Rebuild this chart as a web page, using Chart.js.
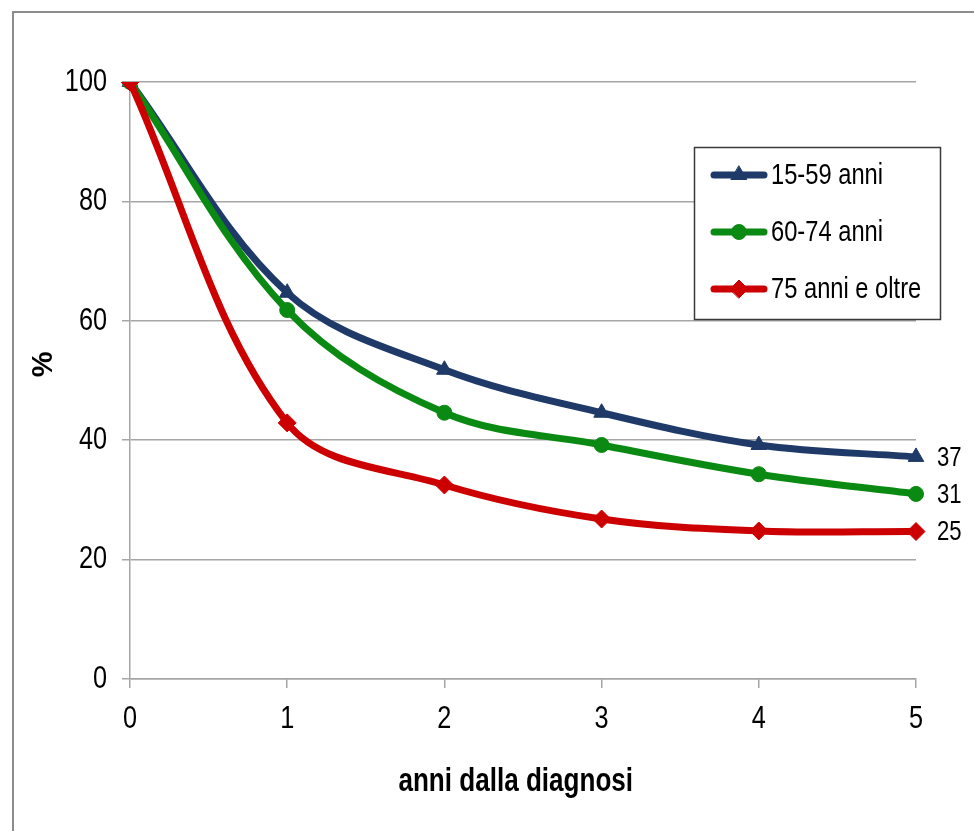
<!DOCTYPE html>
<html><head><meta charset="utf-8">
<script src="https://cdn.jsdelivr.net/npm/chart.js@4.4.1/dist/chart.umd.min.js"></script>
<style>
html,body{margin:0;padding:0;background:#fff;}
#wrap{position:relative;width:974px;height:831px;}
canvas{display:block;}
</style></head><body>
<div id="wrap"><canvas id="c" width="974" height="831"></canvas></div>
<script>
const years = ['0', '1', '2', '3', '4', '5'];
const seriesLabels = ['15-59 anni', '60-74 anni', '75 anni e oltre'];
const age15_59 = [100, 64.7, 51.8, 44.6, 39.2, 37.2];
const age60_74 = [100, 61.8, 44.6, 39.2, 34.3, 31.0];
const age75plus = [100, 42.9, 32.5, 26.8, 24.8, 24.7];
const endLabels = ['37', '31', '25'];
const yTicks = [0, 20, 40, 60, 80, 100];
const xTitle = 'anni dalla diagnosi';
const yTitle = '%';

const FONT = "'Liberation Sans', Arial, sans-serif";
const SX = 0.79; // horizontal condensing to mimic a narrow typeface
const colors = ['#1F3A68', '#0A8A12', '#CC0000'];
const styles = ['triangle', 'circle', 'rectRot'];
const radii = [9, 7.5, 9];
const GRID = '#a6a6a6';

const cv = document.getElementById('c');
const c2d = cv.getContext('2d');
const origFill = c2d.fillText.bind(c2d);
c2d.fillText = function (text, x, y) {
  if (String(text).trim() === yTitle) return origFill(text, x, y);
  this.save();
  this.translate(x, y);
  this.scale(SX, 1);
  origFill(text, 0, 0);
  this.restore();
};

const frame = {
  id: 'frame',
  beforeDraw(chart) {
    const ctx = chart.ctx;
    ctx.save();
    ctx.strokeStyle = '#8c8c8c';
    ctx.lineWidth = 2;
    ctx.beginPath();
    ctx.moveTo(13, 840); ctx.lineTo(13, 12); ctx.lineTo(980, 12);
    ctx.stroke();
    ctx.restore();
  }
};

const endLabelPlugin = {
  id: 'endLabels',
  afterDatasetsDraw(chart) {
    const ctx = chart.ctx;
    ctx.save();
    ctx.font = '28px ' + FONT;
    ctx.fillStyle = '#000';
    ctx.textBaseline = 'middle';
    ctx.textAlign = 'left';
    chart.data.datasets.forEach((ds, i) => {
      const meta = chart.getDatasetMeta(i);
      const pt = meta.data[meta.data.length - 1];
      ctx.fillText(endLabels[i], pt.x + 21, pt.y + 1);
    });
    ctx.restore();
  }
};

const boxLegend = {
  id: 'boxLegend',
  afterDraw(chart) {
    const ctx = chart.ctx;
    ctx.save();
    ctx.fillStyle = '#fff';
    ctx.fillRect(694, 147, 247, 172);
    ctx.strokeStyle = '#3a3a3a';
    ctx.lineWidth = 1.5;
    ctx.strokeRect(694.5, 147.5, 246, 172);
    const rows = [175, 232, 289];
    chart.data.datasets.forEach((ds, i) => {
      const y = rows[i];
      ctx.strokeStyle = ds.borderColor;
      ctx.lineWidth = 7;
      ctx.lineCap = 'round';
      ctx.beginPath();
      ctx.moveTo(714, y); ctx.lineTo(764, y);
      ctx.stroke();
      ctx.fillStyle = ds.borderColor;
      ctx.lineWidth = 1;
      Chart.helpers.drawPoint(ctx, {pointStyle: ds.pointStyle, radius: ds.pointRadius, borderWidth: 1, rotation: 0}, 739, y);
      ctx.fillStyle = '#000';
      ctx.font = '30px ' + FONT;
      ctx.textBaseline = 'middle';
      ctx.textAlign = 'left';
      ctx.fillText(ds.label, 771, y + 1);
    });
    ctx.restore();
  }
};

const datasets = [age15_59, age60_74, age75plus].map((arr, i) => ({
  label: seriesLabels[i],
  data: arr,
  borderColor: colors[i],
  backgroundColor: colors[i],
  pointBackgroundColor: colors[i],
  pointBorderColor: colors[i],
  pointStyle: styles[i],
  pointRadius: radii[i],
  pointBorderWidth: 1,
  borderWidth: 7,
  tension: 0.35,
  fill: false,
  order: 3 - i
}));

new Chart(cv, {
  type: 'line',
  data: { labels: years, datasets },
  options: {
    responsive: false,
    animation: false,
    devicePixelRatio: 1,
    layout: { padding: { left: 0, right: 58, top: 82, bottom: 0 } },
    plugins: { legend: { display: false }, tooltip: { enabled: false } },
    scales: {
      x: {
        type: 'category',
        offset: false,
        grid: { drawOnChartArea: false, color: GRID, lineWidth: 1.5, tickLength: 9 },
        border: { display: true, color: GRID, width: 1.5 },
        ticks: { font: { family: FONT, size: 32 }, color: '#000', padding: 12, maxRotation: 0, autoSkip: false },
        title: { display: true, text: xTitle + '  ', color: '#000', font: { family: FONT, size: 33, weight: 'bold' }, padding: { top: 0, bottom: 29 } },
        afterFit(s) { s.height = 152; }
      },
      y: {
        min: 0, max: 100,
        afterBuildTicks(s) { s.ticks = yTicks.map(v => ({ value: v })); },
        grid: { color: GRID, lineWidth: 1.5, tickLength: 8 },
        border: { display: true, color: GRID, width: 1.5 },
        ticks: { font: { family: FONT, size: 32 }, color: '#000', padding: 15 },
        title: { display: true, text: '    ' + yTitle, color: '#000', font: { family: FONT, size: 29, weight: 'bold' }, padding: { top: 27, bottom: 0 } },
        afterFit(s) { s.width = 130; }
      }
    }
  },
  plugins: [frame, endLabelPlugin, boxLegend]
});
</script>
</body></html>
